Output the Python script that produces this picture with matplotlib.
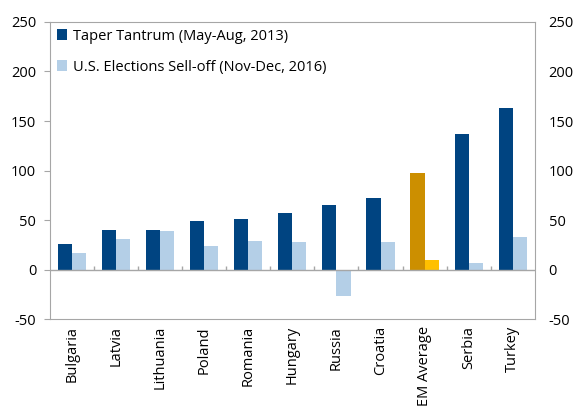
import matplotlib.pyplot as plt
import numpy as np

plt.rcParams['font.family'] = ['Open Sans', 'DejaVu Sans']
plt.rcParams['axes.unicode_minus'] = False

countries = ['Bulgaria', 'Latvia', 'Lithuania', 'Poland', 'Romania', 'Hungary',
             'Russia', 'Croatia', 'EM Average', 'Serbia', 'Turkey']
taper = [26, 40, 40, 49, 51, 57, 65, 72, 98, 137, 163]
election = [17, 31, 39, 24, 29, 28, -27, 28, 10, 7, 33]

dark = '#004481'
light = '#b4cfe7'
gold = '#cc8f00'
yellow = '#ffc000'
grey = '#a6a6a6'

x = np.arange(len(countries))
w = 0.32
c1 = [gold if c == 'EM Average' else dark for c in countries]
c2 = [yellow if c == 'EM Average' else light for c in countries]

fig = plt.figure(figsize=(5.75, 4.07), dpi=100)
ax = fig.add_axes([0.087, 0.216, 0.843, 0.730])

ax.bar(x - w / 2, taper, w, color=c1, label='Taper Tantrum (May-Aug, 2013)')
ax.bar(x + w / 2, election, w, color=c2, label='U.S. Elections Sell-off (Nov-Dec, 2016)')
ax.axhline(0, color=grey, lw=1)
ax.vlines(x[:-1] + 0.5, 0, 4, color=grey, lw=1)

ax.set_xlim(-0.5, len(countries) - 0.5)
ax.set_ylim(-50, 250)
ax.set_yticks(range(-50, 251, 50))
ax.set_xticks(x)
ax.set_xticklabels(countries, rotation=90, fontsize=10.5)
ax.tick_params(axis='x', length=0, pad=5)
ax.tick_params(axis='y', labelsize=10.5, color=grey, length=4, labelright=True,
               right=False, pad=6)
for s in ax.spines.values():
    s.set_color(grey)

leg = ax.legend(loc='upper left', frameon=False, fontsize=10.5, handlelength=0.7,
                handleheight=0.7, handletextpad=0.4, labelspacing=1.1,
                borderaxespad=0.15, borderpad=0.3)

plt.savefig('out.png', dpi=100)
